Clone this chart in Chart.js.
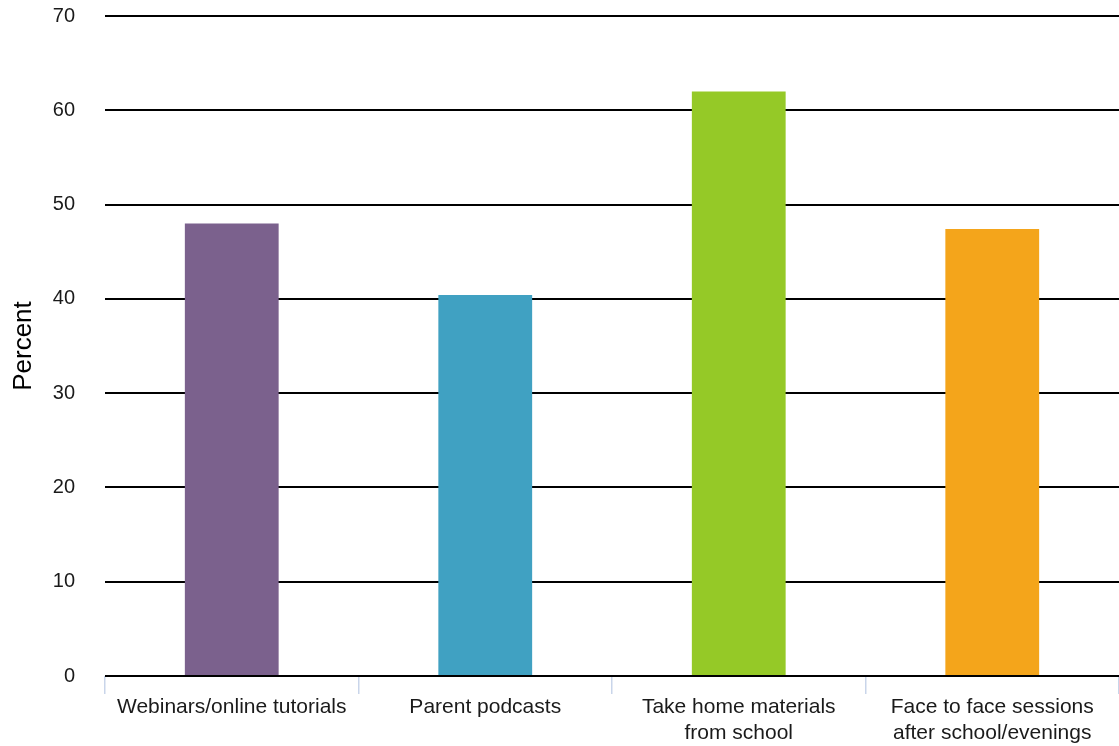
<!DOCTYPE html>
<html>
<head>
<meta charset="utf-8">
<script src="https://cdn.jsdelivr.net/npm/chart.js@4"></script>
<style>
html,body{margin:0;padding:0;background:#fff;}
#wrap{width:1119px;height:746px;position:relative;}
</style>
</head>
<body>
<div id="wrap"><canvas id="c" width="1119" height="746"></canvas></div>
<script>
const categories = [
  "Webinars/online tutorials",
  "Parent podcasts",
  ["Take home materials", "from school"],
  ["Face to face sessions", "after school/evenings"]
];
const percentValues = [48.0, 40.4, 62.0, 47.4];
const barColors = ["#7B618D", "#40A1C2", "#95C927", "#F4A51B"];
const yTicks = [0, 10, 20, 30, 40, 50, 60, 70];

new Chart(document.getElementById('c'), {
  type: 'bar',
  data: {
    labels: categories,
    datasets: [{
      data: percentValues,
      backgroundColor: barColors,
      borderWidth: 0,
      barPercentage: 0.37,
      categoryPercentage: 1.0
    }]
  },
  options: {
    responsive: false,
    animation: false,
    layout: { padding: { top: 16, right: 0, left: 0, bottom: 0 } },
    plugins: { legend: { display: false }, tooltip: { enabled: false } },
    scales: {
      x: {
        offset: true,
        border: { display: false },
        grid: {
          drawOnChartArea: false,
          drawTicks: true,
          tickLength: 18,
          color: '#C9D5EA',
          lineWidth: 1.5,
          offset: true
        },
        ticks: {
          color: '#1a1a1a',
          font: { family: 'Liberation Sans, Arial, sans-serif', size: 21, lineHeight: 1.25 },
          padding: 0,
          maxRotation: 0,
          autoSkip: false
        },
        afterFit: s => { s.height = 70; }
      },
      y: {
        min: 0,
        max: 70,
        border: { display: false },
        afterBuildTicks: s => { s.ticks = yTicks.map(v => ({ value: v })); },
        grid: {
          color: '#000',
          lineWidth: 2,
          drawTicks: false
        },
        ticks: {
          color: '#1a1a1a',
          font: { family: 'Liberation Sans, Arial, sans-serif', size: 20 },
          padding: 30
        },
        title: {
          display: true,
          text: 'Percent',
          color: '#000',
          font: { family: 'Liberation Sans, Arial, sans-serif', size: 26 },
          padding: { top: 8, bottom: 4 }
        },
        afterFit: s => { s.width = 105; s.paddingTop = 0; s.paddingBottom = 0; }
      }
    }
  }
});
</script>
</body>
</html>
